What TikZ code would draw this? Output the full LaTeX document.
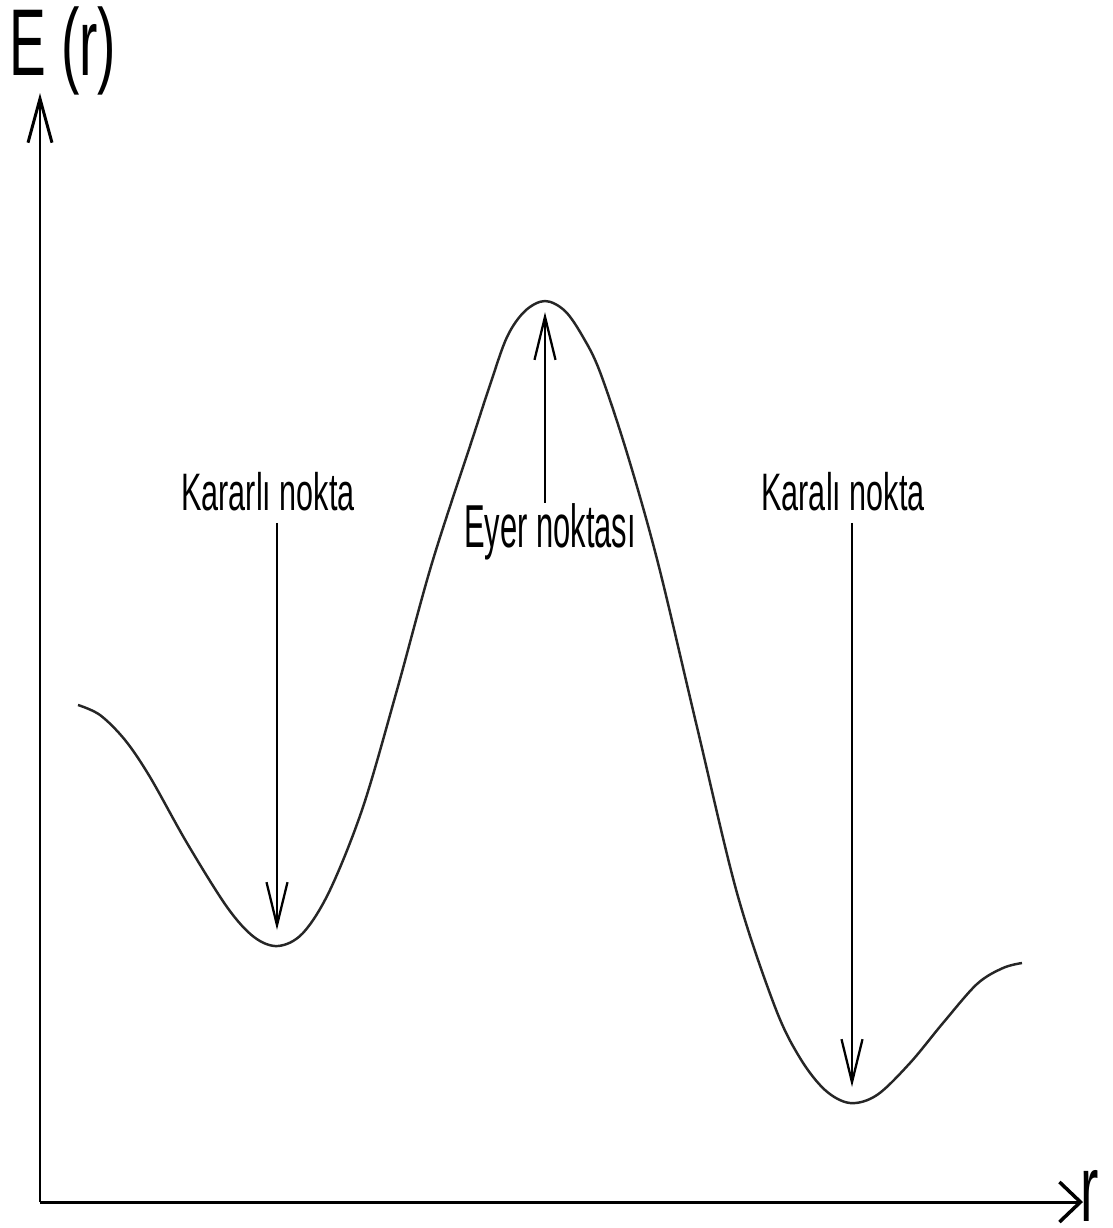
\documentclass[tikz,border=0pt]{standalone}
\usepackage{fontspec}
\newfontfamily\narrowsans[FakeStretch=0.58]{Liberation Sans}
\newfontfamily\eyersans[FakeStretch=0.51]{Liberation Sans}
\usetikzlibrary{arrows.meta, calc}

\begin{document}
\begin{tikzpicture}[x=0.2mm, y=-0.2mm,
  axis/.style={line width=1.7pt},
  curve/.style={line width=1.4pt, black!85, line join=round},
  pin/.style={line width=1pt, -{Straight Barb[length=0.86cm, width=0.42cm, line width=1.3pt]}},
  lbl/.style={inner sep=0pt, anchor=base, font=\narrowsans\fontsize{30}{36}\selectfont},
  big/.style={inner sep=0pt, anchor=base west, font=\narrowsans\fontsize{54}{60}\selectfont}]
  \useasboundingbox (0,0) rectangle (1112,1228);

  % axes
  \coordinate (o) at (40,1202);
  \coordinate (ytop) at (40,93);
  \coordinate (xend) at (1083,1202);
  \draw[axis, -{Straight Barb[length=0.88cm, width=0.48cm]}] (o) -- (ytop);
  \draw[axis, -{Straight Barb[length=0.42cm, width=0.8cm, line width=2pt]}] (o) -- (xend);
  \node[big] (elbl) at (9,75) {E (r)};
  \node[big] (rlbl) at (1080,1221) {r};

  % energy curve
  \draw[curve] plot[smooth, tension=0.55] coordinates {(78,705) (100,715)
    (125,740) (150,777) (187,843) (227,907) (254,937) (278,946) (303,933)
    (330,890) (363,807) (397,690) (432,563) (473,437) (490,385) (507,337)
    (525,311) (545,301) (565,311) (583,337) (600,372) (627,453) (658,563)
    (697,727) (737,893) (775,1007) (800,1058) (825,1090) (850,1103)
    (877,1095) (910,1063) (943,1023) (977,984) (1003,968) (1022,963)};

  % points
  \coordinate (min1) at (277,930);
  \coordinate (sad) at (545,312);
  \coordinate (min2) at (852,1087);
  \node[lbl] (kl) at (268,510) {Kararlı nokta};
  \node[lbl, font=\eyersans\fontsize{34.5}{40}\selectfont] (el) at (550,547) {Eyer noktası};
  \node[lbl] (kr) at (843,510) {Karalı nokta};
  \draw[pin] ($(min1 |- kl.south)+(0,12)$) -- (min1);
  \draw[pin] (sad |- el.north) -- (sad);
  \draw[pin] ($(min2 |- kr.south)+(0,12)$) -- (min2);
\end{tikzpicture}
\end{document}
